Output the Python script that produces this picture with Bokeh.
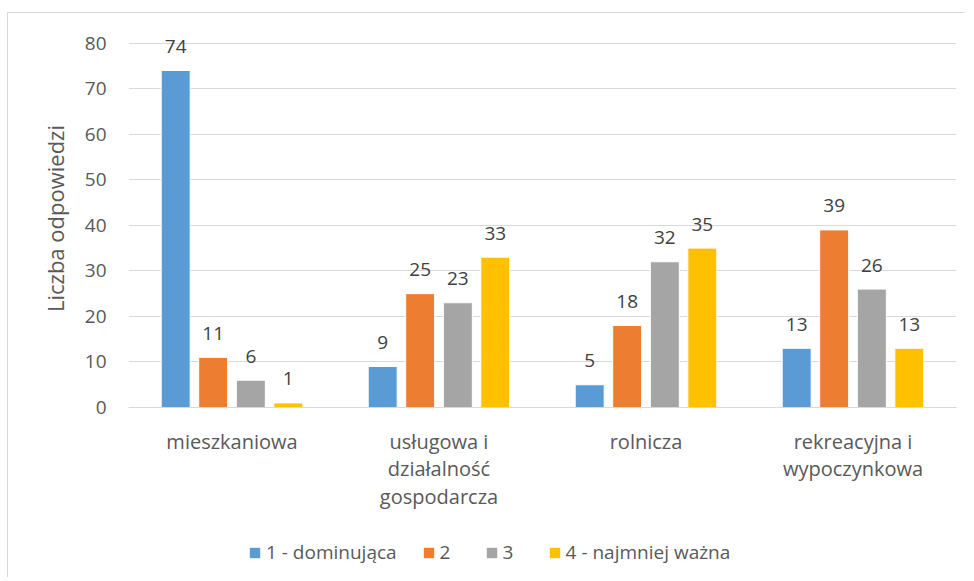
from bokeh.plotting import figure
from bokeh.models import ColumnDataSource, FactorRange, Legend, LegendItem, Range1d
from bokeh.layouts import column
from bokeh.transform import dodge
from bokeh.embed import file_html
from bokeh.resources import INLINE
from bokeh.core.properties import value

categories = ["mieszkaniowa", "usługowa i\ndziałalność\ngospodarcza", "rolnicza", "rekreacyjna i\nwypoczynkowa"]
series_names = ["1 - dominująca", "2", "3", "4 - najmniej ważna"]
s1 = [74, 9, 5, 13]
s2 = [11, 25, 18, 39]
s3 = [6, 23, 32, 26]
s4 = [1, 33, 35, 13]
colors = ["#5B9BD5", "#ED7D31", "#A5A5A5", "#FFC000"]
y_ticks = [0, 10, 20, 30, 40, 50, 60, 70, 80]

FONT = "Open Sans"

p = figure(x_range=FactorRange(*categories, range_padding=0), y_range=Range1d(0, 83),
           frame_width=828, frame_height=378, output_backend="svg", toolbar_location=None,
           min_border_left=120, min_border_right=9, min_border_top=16, min_border_bottom=110)
p.outline_line_color = None
p.background_fill_color = "white"
p.border_fill_color = "white"

source = ColumnDataSource(dict(cat=categories, s1=s1, s2=s2, s3=s3, s4=s4,
                               l1=[str(v) for v in s1], l2=[str(v) for v in s2],
                               l3=[str(v) for v in s3], l4=[str(v) for v in s4]))

offsets = [-0.272, -0.091, 0.091, 0.272]
keys = ["s1", "s2", "s3", "s4"]
lkeys = ["l1", "l2", "l3", "l4"]
for k, lk, off, c in zip(keys, lkeys, offsets, colors):
    p.vbar(x=dodge("cat", off, range=p.x_range), top=k, width=0.14, source=source,
           fill_color=c, line_color="white", line_width=1)
    p.text(x=dodge("cat", off, range=p.x_range), y=k, text=lk, source=source,
           text_align="center", text_baseline="alphabetic", y_offset=-24,
           text_font=value(FONT), text_font_size="19px", text_color="#404040")

p.xgrid.grid_line_color = None
p.ygrid.grid_line_color = "#D9D9D9"
p.ygrid.grid_line_width = 1
p.yaxis.ticker = y_ticks
p.yaxis.axis_line_color = None
p.yaxis.major_tick_line_color = None
p.yaxis.minor_tick_line_color = None
p.yaxis.major_label_text_font = FONT
p.yaxis.major_label_text_font_size = "19px"
p.yaxis.major_label_text_color = "#595959"
p.yaxis.major_label_standoff = 16
p.yaxis.axis_label = "Liczba odpowiedzi"
p.yaxis.axis_label_text_font = FONT
p.yaxis.axis_label_text_font_size = "22px"
p.yaxis.axis_label_text_font_style = "normal"
p.yaxis.axis_label_text_color = "#595959"
p.yaxis.axis_label_standoff = 12

p.xaxis.axis_line_color = "#D9D9D9"
p.xaxis.axis_line_width = 1
p.xaxis.major_tick_line_color = None
p.xaxis.minor_tick_line_color = None
p.xaxis.major_label_text_font = FONT
p.xaxis.major_label_text_font_size = "20px"
p.xaxis.major_label_text_color = "#595959"
p.xaxis.major_label_text_line_height = 1.03
p.xaxis.major_label_standoff = 14

# legend strip below the chart (proxy renderers have zero size)
lg = figure(width=957, height=60, x_range=Range1d(0, 1), y_range=Range1d(0, 1),
            output_backend="svg", toolbar_location=None,
            x_axis_location=None, y_axis_location=None,
            min_border_left=0, min_border_right=0, min_border_top=0, min_border_bottom=0)
lg.outline_line_color = None
lg.grid.visible = False
items = []
for c, name in zip(colors, series_names):
    r = lg.vbar(x=[0.5], top=[0], bottom=[0], width=0, fill_color=c, line_color=None)
    items.append(LegendItem(label=name, renderers=[r]))
legend = Legend(items=items, orientation="horizontal", location=(120, 12),
                label_text_font=FONT, label_text_font_size="19px", label_text_color="#595959",
                glyph_width=13, glyph_height=13, label_standoff=5, spacing=25,
                border_line_color=None, background_fill_alpha=0, margin=0, padding=0)
lg.add_layout(legend, "center")

layout = column(p, lg, spacing=0)
layout.styles = {"border-left": "1px solid #D9D9D9", "border-top": "1px solid #D9D9D9",
                 "margin-left": "7px", "margin-top": "12px"}

open("out.html", "w").write(file_html(layout, INLINE))
